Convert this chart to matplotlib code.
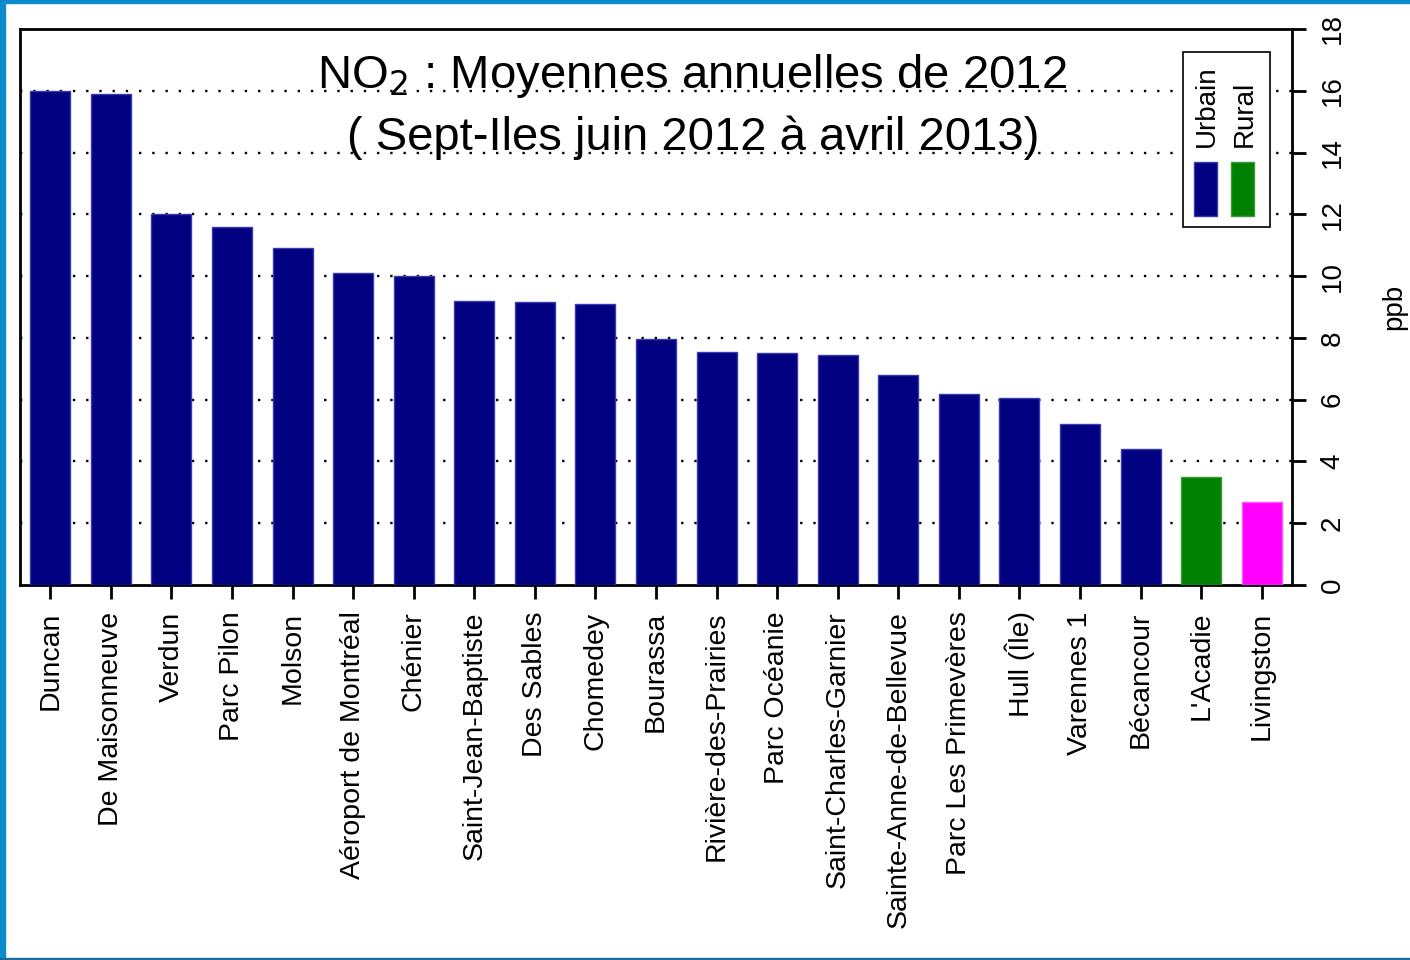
import numpy as np
import matplotlib
matplotlib.use("Agg")
import matplotlib.pyplot as plt
from matplotlib.patches import Rectangle

plt.rcParams['font.family'] = ['Liberation Sans', 'DejaVu Sans']

stations = ['Duncan', 'De Maisonneuve', 'Verdun', 'Parc Pilon', 'Molson',
            'Aéroport de Montréal', 'Chénier', 'Saint-Jean-Baptiste', 'Des Sables',
            'Chomedey', 'Bourassa', 'Rivière-des-Prairies', 'Parc Océanie',
            'Saint-Charles-Garnier', 'Sainte-Anne-de-Bellevue', 'Parc Les Primevères',
            'Hull (Île)', 'Varennes 1', 'Bécancour', "L'Acadie", 'Livingston']
no2_ppb = [16.0, 15.9, 12.0, 11.6, 10.9, 10.1, 10.0, 9.2, 9.15, 9.1, 7.95,
           7.55, 7.5, 7.45, 6.8, 6.2, 6.05, 5.2, 4.4, 3.5, 2.7]
zone = ['Urbain'] * 19 + ['Rural', 'Autre']
zone_colors = {'Urbain': '#000080', 'Rural': '#008000', 'Autre': '#FF00FF'}
zone_edges = {'Urbain': '#3a3ab0', 'Rural': '#3a9a3a', 'Autre': '#ff55ff'}
y_ticks = [0, 2, 4, 6, 8, 10, 12, 14, 16, 18]

fig = plt.figure(figsize=(14.1, 9.6), dpi=100)
ax = fig.add_axes([0.0142, 0.3906, 0.9021, 0.5792])

x = np.arange(len(stations))
ax.bar(x, no2_ppb, width=0.66,
       color=[zone_colors[z] for z in zone],
       edgecolor=[zone_edges[z] for z in zone], linewidth=1, zorder=3)

ax.set_xlim(-0.5, len(stations) - 0.5)
ax.set_ylim(0, 18)

# dotted grid
for v in y_ticks[1:-1]:
    ax.axhline(v, color='black', linestyle=(0, (1, 4.6)), linewidth=1.7, zorder=1)

for s in ax.spines.values():
    s.set_linewidth(2)

ax.set_xticks(x)
ax.set_xticklabels(stations, rotation=90, fontsize=20.5)
ax.tick_params(axis='x', direction='out', length=10, width=2, pad=9)

ax.yaxis.tick_right()
ax.set_yticks(y_ticks)
ax.set_yticklabels([str(v) for v in y_ticks], rotation=90, fontsize=20)
for lab in ax.get_yticklabels():
    lab.set_va('center')
ax.tick_params(axis='y', direction='out', length=10, width=2, pad=10)

fig.text(0.989, 0.68, 'ppb', rotation=90, fontsize=20, ha='center', va='center')

ax.text(0.528, 0.915, 'NO$_2$ : Moyennes annuelles de 2012', transform=ax.transAxes,
        ha='center', va='center', fontsize=34, zorder=5)
ax.text(0.529, 0.805, '( Sept-Iles juin 2012 à avril 2013)', transform=ax.transAxes,
        ha='center', va='center', fontsize=34, zorder=5)

# rotated legend drawn by hand
lx0, lx1 = (1183 - 20) / 1272, (1270 - 20) / 1272
ly0, ly1 = (585 - 227) / 556, (585 - 52) / 556
ax.add_patch(Rectangle((lx0, ly0), lx1 - lx0, ly1 - ly0, transform=ax.transAxes,
                       facecolor='white', edgecolor='black', linewidth=1.2, zorder=6))
for i, name in enumerate(['Urbain', 'Rural']):
    cx = (1206 + i * 37 - 20) / 1272
    pw = 23 / 1272
    ax.add_patch(Rectangle((cx - pw / 2, (585 - 216) / 556), pw, 54 / 556,
                           transform=ax.transAxes, facecolor=zone_colors[name],
                           edgecolor=zone_edges[name], linewidth=1, zorder=7))
    ax.text(cx + 0.001, (585 - 147) / 556, name, transform=ax.transAxes, rotation=90,
            ha='center', va='bottom', fontsize=20, zorder=7)

# blue slide frame
frame = '#0A8CCB'
fig.patches.append(Rectangle((0, 0), 5 / 1410, 1, transform=fig.transFigure,
                             color=frame, zorder=10))
fig.patches.append(Rectangle((0, 1 - 3 / 960), 1, 3 / 960, transform=fig.transFigure,
                             color=frame, zorder=10))
fig.patches.append(Rectangle((0, 0), 1, 2 / 960, transform=fig.transFigure,
                             color='#1a6e9a', zorder=10))

fig.savefig('out.png', dpi=100)
